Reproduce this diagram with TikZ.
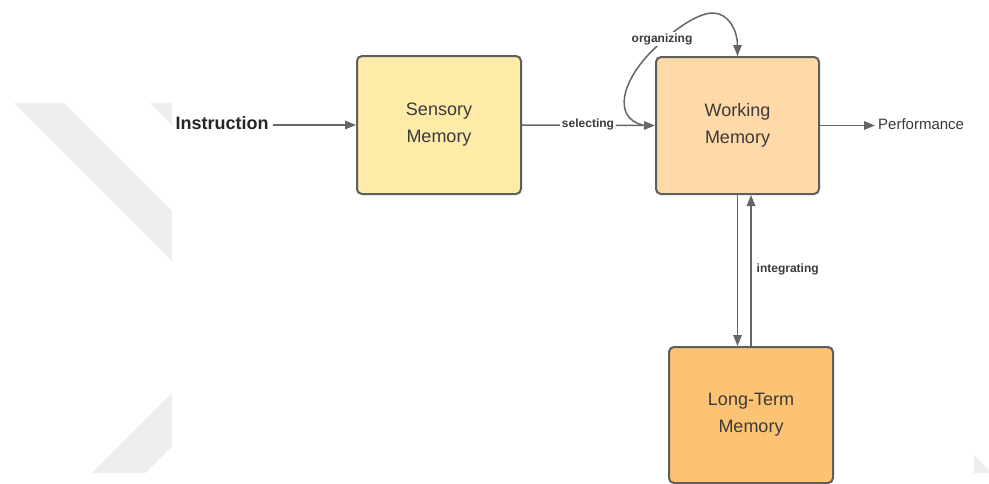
\documentclass[tikz,border=0pt]{standalone}
\usepackage{fontspec}
\setmainfont{Liberation Sans}
\usetikzlibrary{arrows.meta}

\definecolor{sensoryfill}{HTML}{FFEBA8}
\definecolor{workingfill}{HTML}{FFD9A8}
\definecolor{longtermfill}{HTML}{FDC374}
\definecolor{boxline}{HTML}{5E5E5E}
\definecolor{wireline}{HTML}{666666}
\definecolor{inktext}{HTML}{3A3A3A}
\definecolor{markgray}{HTML}{EEEEEE}

\tikzset{
  membox/.style={draw=boxline, line width=2pt, rounded corners=5pt,
    minimum width=#1, minimum height=137pt, align=center, text=inktext,
    font=\fontsize{18}{27}\selectfont, inner sep=0pt},
  wire/.style={draw=wireline, line width=1.5pt,
    -{Triangle[length=11pt,width=8.5pt]}},
  edgelabel/.style={font=\bfseries\fontsize{12}{14}\selectfont, text=inktext,
    fill=white, inner sep=1.5pt},
  plainlabel/.style={font=\fontsize{15}{18}\selectfont, text=inktext, inner sep=3pt},
}

\begin{document}
\begin{tikzpicture}[x=1pt, y=-1pt]
  \useasboundingbox (0,0) rectangle (989,483);
  \fill[white] (0,0) rectangle (989,483);

  % faint background stripes
  \fill[markgray] (14,103) -- (64,103) -- (172,211) -- (172,261) -- cycle;
  \fill[markgray] (150,103) -- (172,103) -- (172,125) -- cycle;
  \fill[markgray] (92,473) -- (145,473) -- (172,446) -- (172,393) -- cycle;
  \fill[markgray] (974,455) -- (974,473) -- (989,473) -- (989,470) -- cycle;

  % memory stores
  \node[membox=164pt, fill=sensoryfill, minimum height=138pt] (sm) at (439,125) {Sensory\\Memory};
  \node[membox=163pt, fill=workingfill] (wm) at (737.5,125.5) {Working\\Memory};
  \node[membox=164pt, fill=longtermfill, minimum height=136pt] (ltm) at (751,415) {Long-Term\\Memory};

  % input and output
  \node[font=\bfseries\fontsize{18}{22}\selectfont, text=black!85, inner sep=4pt] (instr) at (222,123) {Instruction};
  \node[plainlabel, anchor=west] (perf) at (875,124) {Performance};

  \draw[wire] (instr.east |- sm.west) -- (sm.west);
  \draw[wire] (sm.east) -- (wm.west);
  \draw[wire] (wm.east) -- (perf.west |- wm.east);
  \node[edgelabel] (sel) at (588,124) {selecting};

  % organizing loop back into working memory
  \coordinate (orgstart) at (643,125);
  \draw[wire] (orgstart) .. controls (612,118) and (622,80) .. (653,50)
    .. controls (668,35) and (695,13) .. (713,13)
    .. controls (728,13) and (737.5,30) .. (wm.north);
  \node[edgelabel] (org) at (662,39) {organizing};

  % exchange with long-term memory
  \draw[wire] (wm.south) -- (wm.south |- ltm.north);
  \draw[wire] (ltm.north) -- (ltm.north |- wm.south);
  \node[edgelabel, anchor=west, fill=none] (integ) at (755,269) {integrating};
\end{tikzpicture}
\end{document}
